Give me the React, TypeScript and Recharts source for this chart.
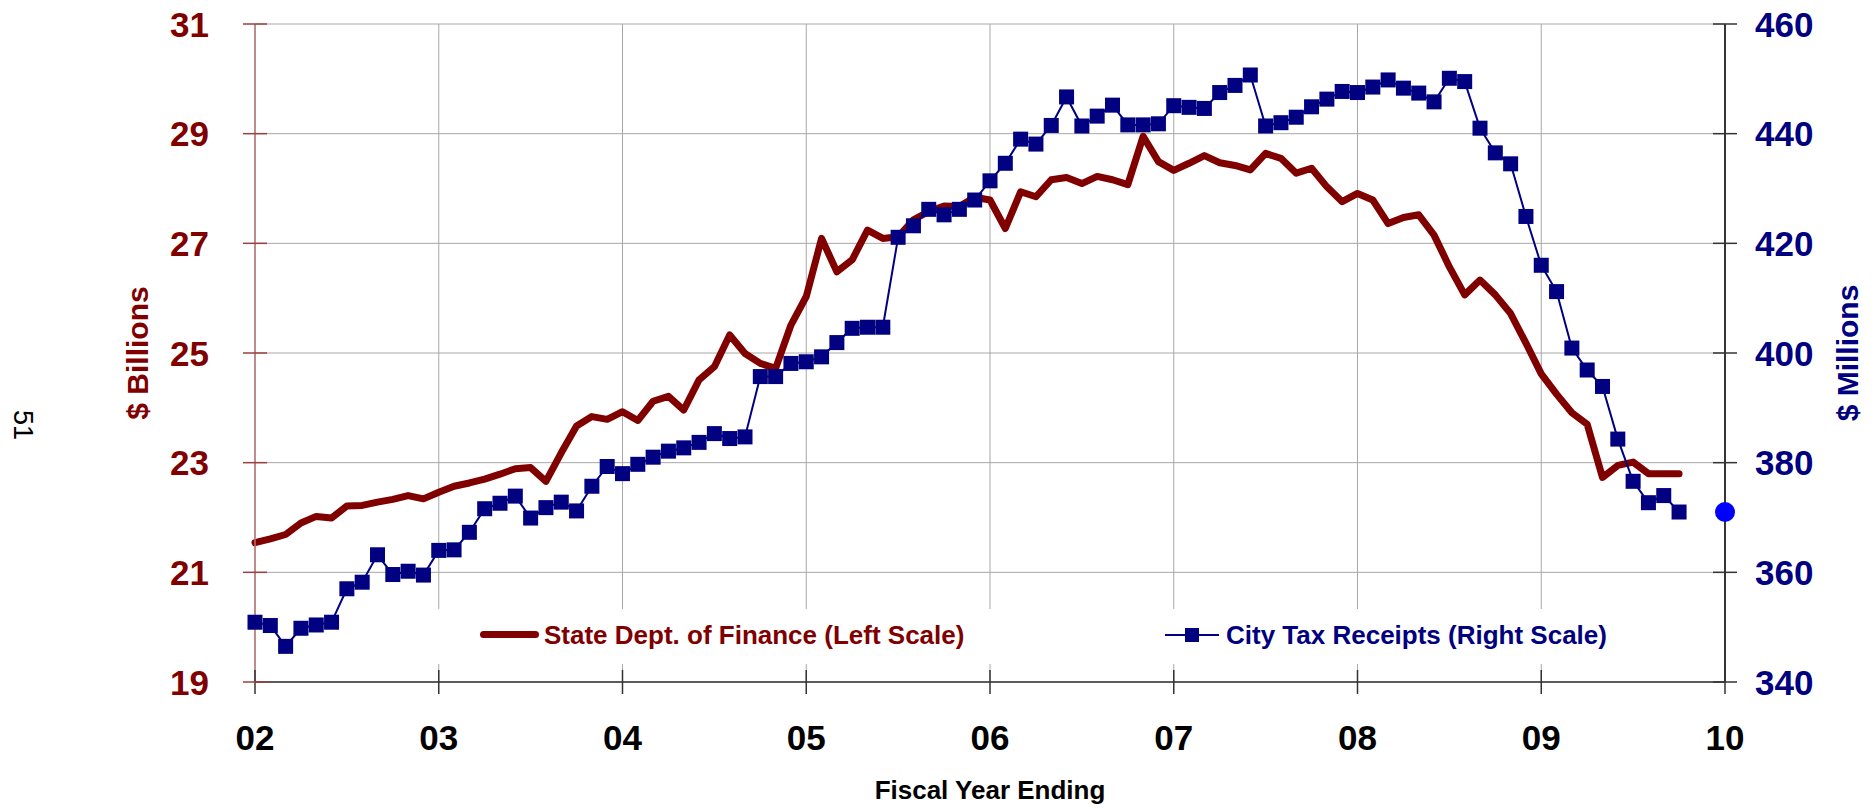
import React from "react"
import {
  LineChart,
  Line,
  XAxis,
  YAxis,
  CartesianGrid,
  ReferenceDot,
  Label,
} from "recharts"

// fiscal years, one tick every 12 months
const yearLabels = ["02", "03", "04", "05", "06", "07", "08", "09", "10"]
const monthTicks = [0, 12, 24, 36, 48, 60, 72, 84, 96]
const leftTicks = [19, 21, 23, 25, 27, 29, 31]
const rightTicks = [340, 360, 380, 400, 420, 440, 460]

// State Dept. of Finance, $ billions (monthly, left scale)
const stateFinance = [
  21.54, 21.61, 21.69, 21.9, 22.02, 21.99, 22.21, 22.22, 22.28, 22.33, 22.4, 22.34,
  22.46, 22.57, 22.63, 22.7, 22.79, 22.89, 22.91, 22.66, 23.18, 23.67, 23.84, 23.79,
  23.93, 23.77, 24.12, 24.21, 23.96, 24.51, 24.75, 25.33, 24.99, 24.81, 24.72, 25.51,
  26.03, 27.09, 26.48, 26.7, 27.24, 27.09, 27.12, 27.43, 27.58, 27.68, 27.67, 27.84,
  27.79, 27.27, 27.94, 27.85, 28.16, 28.2, 28.09, 28.22, 28.16, 28.07, 28.95, 28.49,
  28.33, 28.46, 28.6, 28.47, 28.42, 28.34, 28.64, 28.55, 28.28, 28.37, 28.03, 27.76,
  27.91, 27.79, 27.36, 27.47, 27.52, 27.15, 26.57, 26.06, 26.33, 26.06, 25.72, 25.18,
  24.62, 24.25, 23.91, 23.7, 22.73, 22.95, 23.01, 22.8, 22.8, 22.8,
]

// City tax receipts, $ millions (monthly, right scale)
const cityTax = [
  350.9, 350.3, 346.5, 349.8, 350.4, 350.9, 357.0, 358.2, 363.2, 359.6, 360.2, 359.5,
  364.0, 364.1, 367.3, 371.6, 372.6, 373.9, 369.9, 371.8, 372.8, 371.2, 375.7, 379.3,
  378.0, 379.7, 381.0, 382.1, 382.7, 383.7, 385.3, 384.4, 384.7, 395.7, 395.7, 398.1,
  398.4, 399.3, 401.9, 404.5, 404.7, 404.7, 421.1, 423.2, 426.2, 425.2, 426.2, 427.9,
  431.4, 434.6, 439.0, 438.1, 441.5, 446.7, 441.4, 443.2, 445.2, 441.6, 441.6, 441.8,
  445.1, 444.8, 444.6, 447.5, 448.8, 450.7, 441.4, 442.0, 443.0, 444.9, 446.3, 447.7,
  447.5, 448.5, 449.8, 448.3, 447.4, 445.8, 450.1, 449.5, 441.0, 436.5, 434.5, 424.9,
  416.0, 411.2, 400.9, 396.9, 393.9, 384.3, 376.6, 372.7, 374.0, 371.0,
]

// latest reading marked on the right axis
const latestMonth = 96
const latestCityTax = 371

const FONT = '"Liberation Sans", Arial, sans-serif'
const RED = "#800000"
const NAVY = "#000080"

const rows = stateFinance.map((v, i) => ({ m: i, state: v, city: cityTax[i] }))

const XTick = ({ x, y, payload }: any) => (
  <g>
    <line x1={x} x2={x} y1={y - 12} y2={y + 12} stroke="#333" strokeWidth={1.5} />
    <text x={x} y={y + 68} textAnchor="middle" fill="#000" fontSize={35} fontWeight={700} fontFamily={FONT}>
      {yearLabels[monthTicks.indexOf(payload.value)]}
    </text>
  </g>
)

const LeftTick = ({ x, y, payload }: any) => (
  <g>
    <line x1={x - 12} x2={x + 12} y1={y} y2={y} stroke="#9a4040" strokeWidth={1.5} />
    <text x={x - 46} y={y + 12.5} textAnchor="end" fill={RED} fontSize={35} fontWeight={700} fontFamily={FONT}>
      {payload.value}
    </text>
  </g>
)

const RightTick = ({ x, y, payload }: any) => (
  <g>
    <line x1={x - 12} x2={x + 12} y1={y} y2={y} stroke="#333" strokeWidth={1.5} />
    <text x={x + 30} y={y + 12.5} textAnchor="start" fill={NAVY} fontSize={35} fontWeight={700} fontFamily={FONT}>
      {payload.value}
    </text>
  </g>
)

const SquareDot = (props: any) => {
  const { cx, cy, index } = props
  if (cx == null || cy == null) return <g key={index} />
  return <rect key={index} x={cx - 7.5} y={cy - 7.5} width={15} height={15} fill={NAVY} />
}

export default function App() {
  return (
    <div style={{ position: "absolute", left: 0, top: 0, width: 1876, height: 809, background: "#fff" }}>
      <LineChart width={1876} height={809} data={rows} margin={{ top: 24, right: 0, bottom: 0, left: 0 }}>
        <CartesianGrid stroke="#a8a8a8" strokeWidth={1} yAxisId="left" />
        <XAxis
          dataKey="m"
          type="number"
          domain={[0, 96]}
          ticks={monthTicks}
          interval={0}
          height={127}
          tickSize={0}
          tickMargin={0}
          tickLine={false}
          axisLine={{ stroke: "#333", strokeWidth: 1.5 }}
          tick={XTick}
        >
          <Label
            content={() => (
              <text x={990} y={799} textAnchor="middle" fill="#000" fontSize={26} fontWeight={700} fontFamily={FONT}>
                Fiscal Year Ending
              </text>
            )}
          />
        </XAxis>
        <YAxis
          yAxisId="left"
          orientation="left"
          width={255}
          domain={[19, 31]}
          ticks={leftTicks}
          interval={0}
          tickSize={0}
          tickMargin={0}
          tickLine={false}
          axisLine={{ stroke: "#b87474", strokeWidth: 1.5 }}
          tick={LeftTick}
        >
          <Label
            content={() => (
              <text
                x={148}
                y={353}
                transform="rotate(-90, 148, 353)"
                textAnchor="middle"
                fill={RED}
                fontSize={30}
                fontWeight={700}
                fontFamily={FONT}
              >
                $ Billions
              </text>
            )}
          />
        </YAxis>
        <YAxis
          yAxisId="right"
          orientation="right"
          width={151}
          domain={[340, 460]}
          ticks={rightTicks}
          interval={0}
          tickSize={0}
          tickMargin={0}
          tickLine={false}
          axisLine={{ stroke: "#000", strokeWidth: 1.5 }}
          tick={RightTick}
        >
          <Label
            content={() => (
              <text
                x={1858}
                y={353}
                transform="rotate(-90, 1858, 353)"
                textAnchor="middle"
                fill={NAVY}
                fontSize={30}
                fontWeight={700}
                fontFamily={FONT}
              >
                $ Millions
              </text>
            )}
          />
        </YAxis>
        <Line
          yAxisId="left"
          type="linear"
          dataKey="state"
          stroke={RED}
          strokeWidth={7}
          strokeLinejoin="round"
          strokeLinecap="round"
          dot={false}
          activeDot={false}
          isAnimationActive={false}
        />
        <Line
          yAxisId="right"
          type="linear"
          dataKey="city"
          stroke={NAVY}
          strokeWidth={2}
          dot={SquareDot}
          activeDot={false}
          isAnimationActive={false}
        />
        <ReferenceDot
          yAxisId="right"
          x={latestMonth}
          y={latestCityTax}
          r={10}
          fill="#0000ff"
          stroke="none"
          ifOverflow="visible"
        />
      </LineChart>

      {/* legend sits on a white box over the lower gridlines */}
      <div
        style={{
          position: "absolute",
          left: 370,
          top: 609,
          width: 1342,
          height: 55,
          background: "#fff",
          fontFamily: FONT,
          fontWeight: 700,
          fontSize: 26,
          lineHeight: "26px",
        }}
      >
        <div style={{ position: "absolute", left: 110, top: 22, width: 59, height: 7, borderRadius: 4, background: RED }} />
        <div style={{ position: "absolute", left: 174, top: 13, color: RED, whiteSpace: "nowrap" }}>
          State Dept. of Finance (Left Scale)
        </div>
        <div style={{ position: "absolute", left: 795, top: 25, width: 54, height: 2, background: NAVY }} />
        <div style={{ position: "absolute", left: 815, top: 19, width: 14, height: 14, background: NAVY }} />
        <div style={{ position: "absolute", left: 856, top: 13, color: NAVY, whiteSpace: "nowrap" }}>
          City Tax Receipts (Right Scale)
        </div>
      </div>

      <div
        style={{
          position: "absolute",
          left: 22,
          top: 425,
          transform: "translate(-50%, -50%) rotate(90deg)",
          fontFamily: FONT,
          fontSize: 27,
          lineHeight: "27px",
          color: "#000",
        }}
      >
        51
      </div>
    </div>
  )
}
